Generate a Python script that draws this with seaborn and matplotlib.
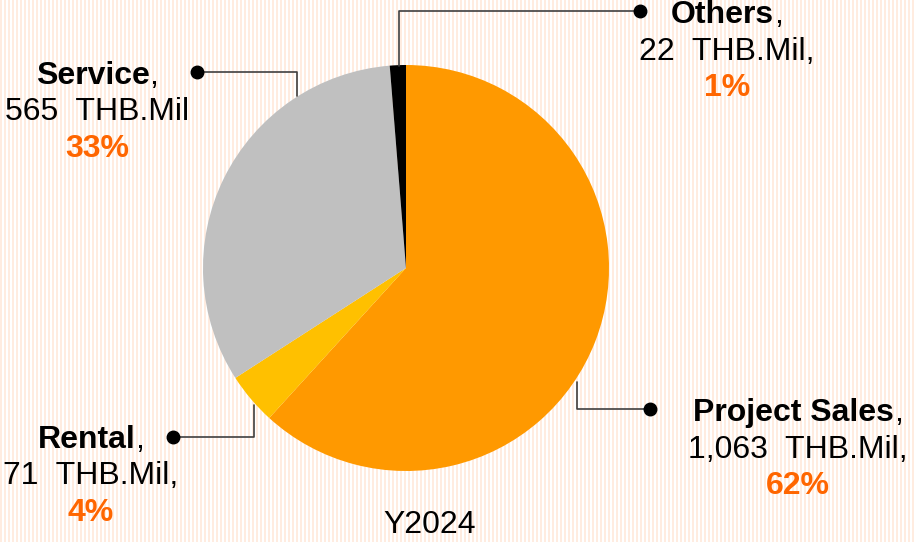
import matplotlib
matplotlib.use("Agg")
import matplotlib.pyplot as plt
import seaborn as sns
import numpy as np

# data
segments = ["Project Sales", "Rental", "Service", "Others"]
values = [1063, 71, 565, 22]
value_texts = ["1,063  THB.Mil,", "71  THB.Mil,", "565  THB.Mil", "22  THB.Mil,"]
year_label = "Y2024"

colors = ["#FF9900", "#FFC000", "#C0C0C0", "#000000"]
pct_color = "#FF6600"

sns.set_style("white")
plt.rcParams["font.family"] = ["Liberation Sans", "DejaVu Sans"]
plt.rcParams["text.color"] = "black"

W, H = 914, 542
fig = plt.figure(figsize=(W / 100, H / 100), dpi=100)
ax = fig.add_axes([0, 0, 1, 1])

def Y(y):
    return H - y

# striped background
ax.vlines(np.arange(1, W, 4), 0, H, color="#FFEADD", lw=1.3, zorder=0)

cx, cy, r = 406, Y(268), 203
ax.pie(values, colors=colors, startangle=90, counterclock=False,
       center=(cx, cy), radius=r, frame=True,
       wedgeprops=dict(linewidth=0, zorder=2))
ax.set_xlim(0, W)
ax.set_ylim(0, H)
ax.set_aspect("equal")
ax.axis("off")

# leader lines: (dot, corner, end on pie)
leaders = {
    "Project Sales": [(650, 409), (577, 409), (577, 382)],
    "Rental": [(173, 437), (254, 437), (254, 405)],
    "Service": [(197, 72), (297, 72), (297, 96)],
    "Others": [(640, 11), (399, 11), (399, 66)],
}
for name, pts in leaders.items():
    xs = [p[0] for p in pts]
    ys = [Y(p[1]) for p in pts]
    ax.plot(xs, ys, color="#404040", lw=1.2, zorder=3)
    ax.plot(xs[0], ys[0], "o", color="black", ms=9, zorder=4)

# label block positions (center x, first line y)
label_pos = {
    "Project Sales": (798, 413),
    "Rental": (91, 440),
    "Service": (97, 76),
    "Others": (727, 15),
}
fs = 23
renderer = fig.canvas.get_renderer()
total = sum(values)
for name, val, vtxt in zip(segments, values, value_texts):
    x, y0 = label_pos[name]
    pct = f"{round(val / total * 100)}%"
    t1 = ax.text(0, 0, name, fontsize=fs, fontweight="bold", ha="left", va="center")
    t2 = ax.text(0, 0, ",", fontsize=fs, ha="left", va="center")
    w1 = t1.get_window_extent(renderer).width
    w2 = t2.get_window_extent(renderer).width
    left = x - (w1 + w2) / 2
    t1.set_position((left, Y(y0)))
    t2.set_position((left + w1, Y(y0)))
    ax.text(x, Y(y0 + 36.5), vtxt, fontsize=fs, ha="center", va="center")
    ax.text(x, Y(y0 + 73), pct, fontsize=fs, fontweight="bold", color=pct_color,
            ha="center", va="center")

ax.text(430, Y(525), year_label, fontsize=fs, ha="center", va="center")

fig.savefig("out.png", dpi=100)
